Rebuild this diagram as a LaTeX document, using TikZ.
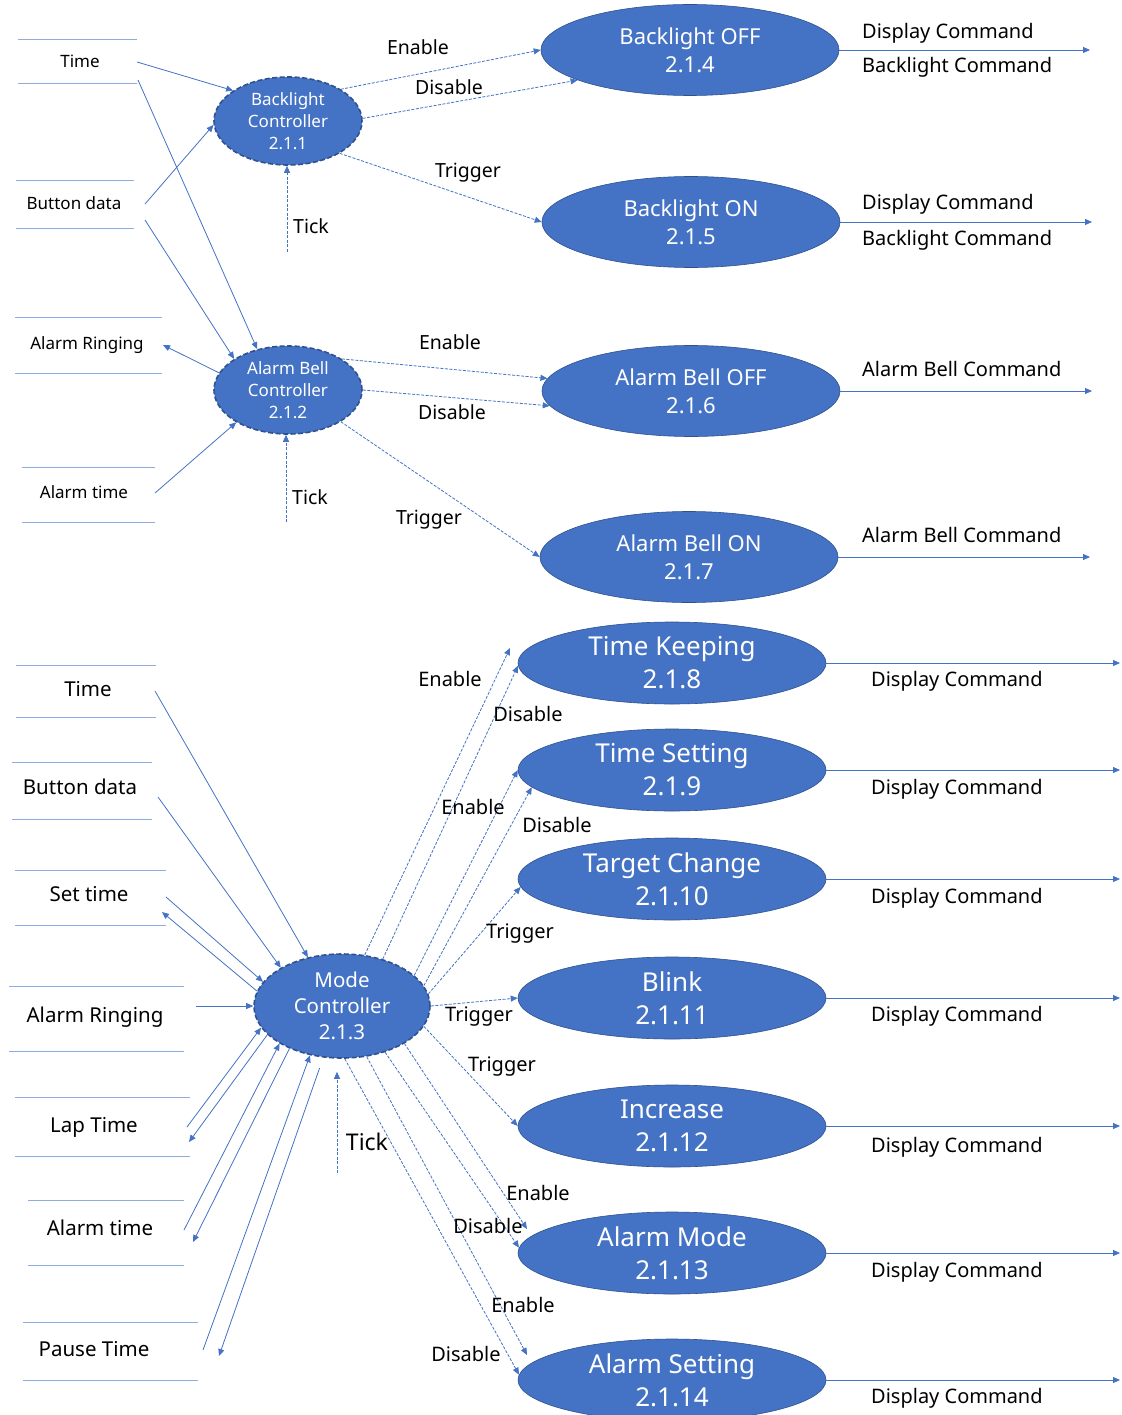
\documentclass[tikz,border=0pt]{standalone}
\usepackage{fontspec}
\setmainfont{Noto Sans}
\usetikzlibrary{arrows.meta,shapes.geometric}
\definecolor{obl}{RGB}{68,114,196}
\definecolor{odk}{RGB}{47,82,143}
\definecolor{oln}{RGB}{143,170,220}
\tikzset{
  ctrl/.style={ellipse, fill=obl, draw=odk, line width=1.6pt, dash pattern=on 5pt off 2.5pt, inner sep=0pt, minimum width=148pt, minimum height=88pt},
  procA/.style={ellipse, fill=obl, draw=odk, line width=0.6pt, inner sep=0pt, minimum width=298pt, minimum height=91pt},
  procB/.style={ellipse, fill=obl, draw=odk, line width=0.6pt, inner sep=0pt, minimum width=308pt, minimum height=82pt},
  wtxt/.style={text=white, align=center, inner sep=0pt},
  btxt/.style={text=black, inner sep=0pt, text height=1.1em, text depth=0pt},
  flow/.style={draw=obl, line width=0.8pt, -{Triangle[length=7pt,width=6pt]}},
  dflow/.style={flow, dash pattern=on 3pt off 1.5pt},
  store/.style={draw=oln, line width=1pt},
  fA/.style={font=\fontsize{17}{22}\selectfont},
  fB/.style={font=\fontsize{19.5}{24}\selectfont},
  fC/.style={font=\fontsize{20}{24}\selectfont},
  fD/.style={font=\fontsize{20.5}{26}\selectfont},
  fE/.style={font=\fontsize{22}{28}\selectfont},
  fF/.style={font=\fontsize{26}{33}\selectfont},
  fG/.style={font=\fontsize{23}{28}\selectfont},
}
\begin{document}
\begin{tikzpicture}[x=1pt,y=-1pt]
\clip (0,0) rectangle (1121,1415);
\fill[white] (0,0) rectangle (1121,1415);

% ---------------- top section ----------------
% data stores (left)
\draw[store] (18,40) -- (137,40) (18,84) -- (137,84);
\node[btxt,fA] (sTime) at (80,62) {Time};
\draw[store] (16,181) -- (134,181) (16,229) -- (134,229);
\node[btxt,fA] (sBtn) at (74,204) {Button data};
\draw[store] (15,317) -- (162,317) (15,373) -- (162,373);
\node[btxt,fA] (sRing) at (87,344) {Alarm Ringing};
\draw[store] (22,467) -- (155,467) (22,522) -- (155,522);
\node[btxt,fA] (sAt) at (84,493) {Alarm time};

% controllers
\node[ctrl] (bc) at (288,121) {};
\node[wtxt,fA] (bcT) at (bc) {Backlight\\Controller\\2.1.1};
\node[ctrl] (abc) at (288,390) {};
\node[wtxt,fA] (abcT) at (abc) {Alarm Bell\\Controller\\2.1.2};

% processes
\node[procA] (bo) at (690,50) {};
\node[wtxt,fE] (boT) at (bo) {Backlight OFF\\2.1.4};
\node[procA] (bn) at (691,222) {};
\node[wtxt,fE] (bnT) at (bn) {Backlight ON\\2.1.5};
\node[procA] (abo) at (691,391) {};
\node[wtxt,fE] (aboT) at (abo) {Alarm Bell OFF\\2.1.6};
\node[procA] (abn) at (689,557) {};
\node[wtxt,fE] (abnT) at (abn) {Alarm Bell ON\\2.1.7};

% free ends
\coordinate (c1) at (137,62);
\coordinate (c2) at (138,80);
\coordinate (c3) at (145,204);
\coordinate (c4) at (145,220);
\coordinate (c5) at (163,345);
\coordinate (c6) at (155,493);
\coordinate (tick1) at (287,252);
\coordinate (tick2) at (286,522);
\coordinate (o1) at (1090,50);
\coordinate (o2) at (1092,222);
\coordinate (o3) at (1092,391);
\coordinate (o4) at (1090,557);

\draw[flow] (c1) -- (bc.151);
\draw[flow] (c2) -- (abc.127);
\draw[flow] (c3) -- (bc.183);
\draw[flow] (c4) -- (abc.150);
\draw[flow] (abc.166) -- (c5);
\draw[flow] (c6) -- (abc.212);
\draw[dflow] (tick1) -- (tick1 |- bc.south);
\draw[dflow] (tick2) -- (tick2 |- abc.south);

\draw[dflow] (bc.31) -- (bo.180);
\draw[dflow] (bc.2) -- (bo.195);
\draw[dflow] (bc.-32) -- (bn.180);
\draw[dflow] (abc.30) -- (abo.175);
\draw[dflow] (abc.0) -- (abo.186);
\draw[dflow] (abc.-31) -- (abn.180);

\draw[flow] (bo.0) -- (o1);
\draw[flow] (bn.0) -- (o2);
\draw[flow] (abo.0) -- (o3);
\draw[flow] (abn.0) -- (o4);

\node[btxt,fB] (l1) at (418,49) {Enable};
\node[btxt,fB] (l2) at (449,89) {Disable};
\node[btxt,fB] (l3) at (468,172) {Trigger};
\node[btxt,fB] (l4) at (311,228) {Tick};
\node[btxt,fB] (l5) at (450,344) {Enable};
\node[btxt,fB] (l6) at (452,414) {Disable};
\node[btxt,fB] (l7) at (310,499) {Tick};
\node[btxt,fB] (l8) at (429,519) {Trigger};

\node[btxt,fC,anchor=west] (r1) at (862,33) {Display Command};
\node[btxt,fC,anchor=west] (r2) at (862,67) {Backlight Command};
\node[btxt,fC,anchor=west] (r3) at (862,204) {Display Command};
\node[btxt,fC,anchor=west] (r4) at (862,240) {Backlight Command};
\node[btxt,fC,anchor=west] (r5) at (862,371) {Alarm Bell Command};
\node[btxt,fC,anchor=west] (r6) at (862,537) {Alarm Bell Command};

% ---------------- bottom section ----------------
\draw[store] (16,665) -- (156,665) (16,717) -- (156,717);
\node[btxt,fD] (mTime) at (88,691) {Time};
\draw[store] (12,762) -- (152,762) (12,819) -- (152,819);
\node[btxt,fD] (mBtn) at (80,789) {Button data};
\draw[store] (15,870) -- (166,870) (15,925) -- (166,925);
\node[btxt,fD] (mSet) at (89,896) {Set time};
\draw[store] (9,986) -- (184,986) (9,1051) -- (184,1051);
\node[btxt,fD] (mRing) at (95,1017) {Alarm Ringing};
\draw[store] (15,1097) -- (190,1097) (15,1156) -- (190,1156);
\node[btxt,fD] (mLap) at (94,1127) {Lap Time};
\draw[store] (28,1200) -- (184,1200) (28,1265) -- (184,1265);
\node[btxt,fD] (mAt) at (100,1230) {Alarm time};
\draw[store] (23,1322) -- (198,1322) (23,1380) -- (198,1380);
\node[btxt,fD] (mPause) at (94,1351) {Pause Time};

\node[ctrl, minimum width=176pt, minimum height=104pt] (mc) at (342,1006) {};
\node[wtxt,font=\fontsize{20.5}{26}\selectfont] (mcT) at (mc) {Mode\\Controller\\2.1.3};

\node[procB] (tk) at (672,663) {};
\node[wtxt,fF] (tkT) at (tk) {Time Keeping\\2.1.8};
\node[procB] (ts) at (672,770) {};
\node[wtxt,fF] (tsT) at (ts) {Time Setting\\2.1.9};
\node[procB] (tc) at (672,879) {};
\node[wtxt,fF] (tcT) at (tc) {Target Change\\2.1.10};
\node[procB] (bl) at (672,998) {};
\node[wtxt,fF] (blT) at (bl) {Blink\\2.1.11};
\node[procB] (inc) at (672,1126) {};
\node[wtxt,fF] (incT) at (inc) {Increase\\2.1.12};
\node[procB] (am) at (672,1253) {};
\node[wtxt,fF] (amT) at (am) {Alarm Mode\\2.1.13};
\node[procB] (as) at (672,1380) {};
\node[wtxt,fF] (asT) at (as) {Alarm Setting\\2.1.14};

\coordinate (d1) at (155,691);
\coordinate (d2) at (158,797);
\coordinate (d3) at (166,897);
\coordinate (d4) at (162,912);
\coordinate (d5) at (196,1006);
\coordinate (d6) at (187,1127);
\coordinate (d7) at (189,1142);
\coordinate (d8) at (184,1230);
\coordinate (d9) at (193,1242);
\coordinate (d10) at (203,1350);
\coordinate (d11) at (219,1356);
\coordinate (tick3) at (337,1173);
\coordinate (e1) at (510,648);
\coordinate (e2) at (527,1229);
\coordinate (e3) at (527,1355);

\draw[flow] (d1) -- (mc.125);
\draw[flow] (d2) -- (mc.148.5);
\draw[flow] (d3) -- (mc.163);
\draw[flow] (mc.170) -- (d4);
\draw[flow] (d5) -- (mc.180);
\draw[flow] (d6) -- (mc.195);
\draw[flow] (mc.201) -- (d7);
\draw[flow] (d8) -- (mc.211);
\draw[flow] (mc.219) -- (d9);
\draw[flow] (d10) -- (mc.237);
\draw[flow, shorten <=11pt] (mc.250) -- (d11);
\draw[dflow, shorten >=13pt] (tick3) -- (tick3 |- mc.south);

\draw[dflow] (mc.66) -- (e1);
\draw[dflow] (mc.49) -- (tk.181);
\draw[dflow] (mc.23.5) -- (ts.180);
\draw[dflow] (mc.14.6) -- (ts.187);
\draw[dflow] (mc.8) -- (tc.183);
\draw[dflow] (mc.0) -- (bl.180);
\draw[dflow] (mc.346) -- (inc.180);
\draw[dflow] (mc.329) -- (e2);
\draw[dflow] (mc.313) -- (am.178);
\draw[dflow] (mc.296) -- (e3);
\draw[dflow] (mc.273) -- (as.178);

\foreach \n/\yy in {tk/663, ts/770, tc/879, bl/998, inc/1126, am/1253, as/1380}{
  \coordinate (out\n) at (1120,\yy);
  \draw[flow] (\n.0) -- (out\n);
}

\node[btxt,fC] (m1) at (450,681) {Enable};
\node[btxt,fC] (m2) at (528,716) {Disable};
\node[btxt,fC] (m3) at (473,809) {Enable};
\node[btxt,fC] (m4) at (557,827) {Disable};
\node[btxt,fC] (m5) at (520,933) {Trigger};
\node[btxt,fC] (m6) at (479,1016) {Trigger};
\node[btxt,fC] (m7) at (502,1066) {Trigger};
\node[btxt,fC] (m8) at (538,1195) {Enable};
\node[btxt,fC] (m9) at (488,1228) {Disable};
\node[btxt,fC] (m10) at (523,1307) {Enable};
\node[btxt,fC] (m11) at (466,1356) {Disable};
\node[btxt,fG] (m12) at (367,1145) {Tick};

\node[btxt,fC,anchor=west] (q1) at (871,681) {Display Command};
\node[btxt,fC,anchor=west] (q2) at (871,789) {Display Command};
\node[btxt,fC,anchor=west] (q3) at (871,898) {Display Command};
\node[btxt,fC,anchor=west] (q4) at (871,1016) {Display Command};
\node[btxt,fC,anchor=west] (q5) at (871,1147) {Display Command};
\node[btxt,fC,anchor=west] (q6) at (871,1272) {Display Command};
\node[btxt,fC,anchor=west] (q7) at (871,1398) {Display Command};
\end{tikzpicture}
\end{document}
